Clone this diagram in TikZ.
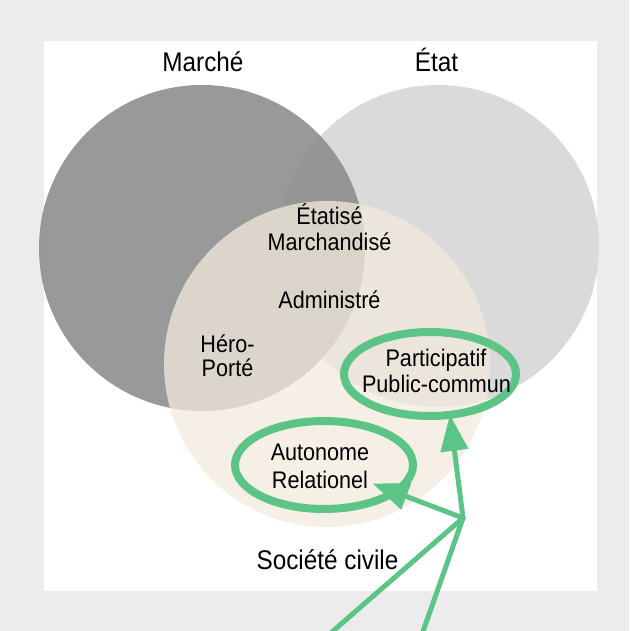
\documentclass[tikz,border=0pt]{standalone}
\usepackage{fontspec}
\setmainfont[FakeStretch=0.9]{Liberation Sans}
\usetikzlibrary{arrows.meta,shapes.geometric}
\definecolor{bggray}{RGB}{236,236,236}
\definecolor{marche}{RGB}{141,141,141}
\definecolor{etat}{RGB}{218,218,218}
\definecolor{civile}{RGB}{242,234,222}
\definecolor{vert}{RGB}{92,196,134}
\begin{document}
\begin{tikzpicture}[x=1pt,y=-1pt,
  title/.style={font=\fontsize{27}{30}\selectfont, anchor=base, inner sep=0pt},
  lbl/.style={font=\fontsize{24}{26}\selectfont, anchor=base, inner sep=0pt},
  oval/.style={ellipse, draw=vert, line width=8pt, outer sep=0pt, inner sep=0pt},
  conn/.style={draw=vert, line width=5pt, line cap=round},
  arr/.style={conn, -{Triangle[length=36pt,width=27pt]}}]
\useasboundingbox (0,0) rectangle (629,631);
\clip (0,0) rectangle (629,631);
\fill[bggray] (0,0) rectangle (629,631);
\fill[white] (44,41) rectangle (597,591);
% circles
\fill[etat] (438,246) circle[radius=161];
\fill[marche, opacity=0.89] (202,248) circle[radius=163];
\fill[civile, opacity=0.75] (327,364) circle[radius=163];
% green ellipses
\node[oval, minimum width=172pt, minimum height=84pt] (P) at (430,374) {};
\node[oval, minimum width=178pt, minimum height=88pt] (A) at (324,465) {};
% titles
\node[title] (tM) at (203,72) {Marché};
\node[title] (tE) at (436.5,72) {État};
\node[title] (tS) at (327.5,569) {Société civile};
% inner labels
\node[lbl] (l1) at (329.5,224.5) {Étatisé};
\node[lbl] (l2) at (329.5,250) {Marchandisé};
\node[lbl] (l3) at (329.5,308) {Administré};
\node[lbl] (l4) at (227.5,352) {Héro-};
\node[lbl] (l5) at (227.5,376) {Porté};
\node[lbl] (l6) at (436,366) {Participatif};
\node[lbl] (l7) at (436.5,392) {Public-commun};
\node[lbl] (l8) at (320,460) {Autonome};
\node[lbl] (l9) at (320,488) {Relationel};
% connectors
\coordinate (J) at (463,518);
\coordinate (b1) at (325,638);
\coordinate (b2) at (420,640);
\draw[conn] (J) -- (b1);
\draw[conn] (J) -- (b2);
\draw[arr] (J) -- (P.-64);
\draw[arr, shorten >=52pt] (J) -- (A.center);
\end{tikzpicture}
\end{document}
